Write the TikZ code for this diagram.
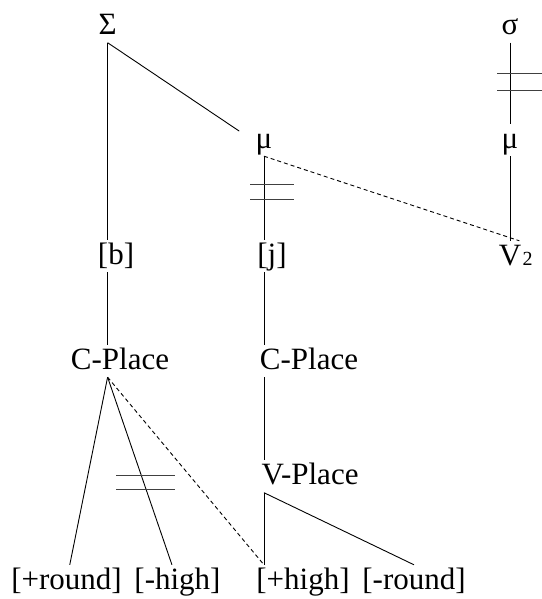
\documentclass[tikz,border=0pt]{standalone}
\usepackage{fontspec}
\setmainfont{Liberation Serif}
\usetikzlibrary{calc}
\tikzset{
  seg/.style={text height=21pt,text depth=5pt,inner sep=3pt,anchor=base,font=\fontsize{31}{36}\selectfont},
  assoc/.style={line width=0.9pt},
  dlink/.style={line width=0.9pt,dash pattern=on 4pt off 3pt},
  bar/.style={line width=1pt,black!75}
}

\begin{document}
\begin{tikzpicture}[x=1pt,y=-1pt]
\useasboundingbox (0,0) rectangle (541,599);
% prosodic tier
\node[seg] (Sg) at (107.6,34.5) {Σ};
\node[seg] (mu) at (264,148) {μ};
\node[seg] (sg) at (510,34.5) {σ};
\node[seg] (mub) at (510,148) {μ};
% segments and place nodes
\node[seg] (b) at (116,264) {[b]};
\node[seg] (j) at (272,264) {[j]};
\node[seg] (V) at (510,265) {V\rlap{\hspace{1.5pt}\fontsize{20}{20}\selectfont 2}};
\node[seg] (cpa) at (120,369) {C-Place};
\node[seg] (cpb) at (309,369) {C-Place};
\node[seg] (vp) at (310,484.5) {V-Place};
% features
\node[seg] (prnd) at (66.5,589) {[+round]};
\node[seg] (mhigh) at (177.5,589) {[-high]};
\node[seg] (phigh) at (303,589) {[+high]};
\node[seg] (mrnd) at (414,589) {[-round]};
\coordinate (cpr) at (Sg |- cpa.south);
\coordinate (vpr) at (mu |- vp.south);
\coordinate (hiend) at (mu |- phigh.north);
% association lines
\draw[assoc] (Sg.south) -- (Sg |- b.north);
\draw[assoc] (Sg |- b.south) -- (Sg |- cpa.north);
\draw[assoc,shorten >=16pt] (Sg.south) -- (mu.west);
\draw[assoc] (mu.south) -- (mu |- j.north);
\draw[assoc] (mu |- j.south) -- (mu |- cpb.north);
\draw[assoc] (mu |- cpb.south) -- (mu |- vp.north);
\draw[dlink] (mu.south) -- (V.60);
\draw[assoc] (sg.south) -- (mub.north);
\draw[assoc] (mub.south) -- (V.north);
\draw[assoc] (cpr) -- (prnd);
\draw[assoc] (cpr) -- (mhigh);
\draw[dlink] (cpr) -- (hiend);
\draw[assoc] (vpr) -- (hiend);
\draw[assoc] (vpr) -- (mrnd.north);
% delinking marks
\foreach \x/\y/\w/\g in {250/184.5/44/14.5, 497/74/46/16.7, 116/475/59/14.2}
  \draw[bar] (\x,\y) -- ++(\w,0) (\x,\y+\g) -- ++(\w,0);
\end{tikzpicture}
\end{document}
